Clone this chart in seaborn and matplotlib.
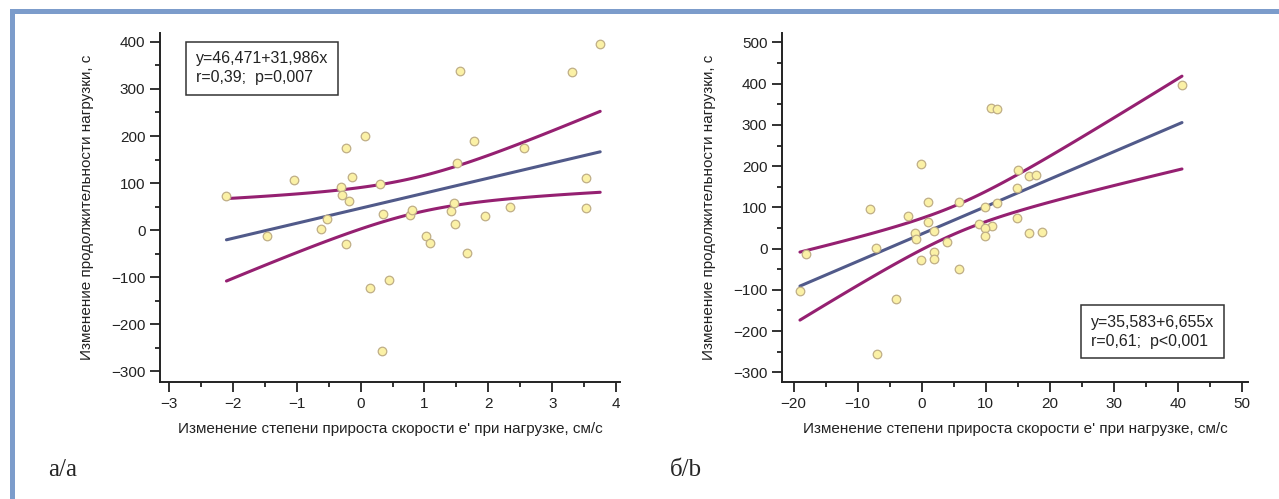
import matplotlib
matplotlib.use("Agg")
import matplotlib.pyplot as plt
from matplotlib.patches import Rectangle
from matplotlib.ticker import MultipleLocator
import numpy as np
import pandas as pd
import seaborn as sns

# panel a: change of e' growth (cm/s) vs change of load duration (s)
a_x = [-2.10, -1.04, -1.47, -0.62, -0.52, -0.31, -0.29, -0.23, -0.23, -0.18, -0.13, 0.07,
       0.15, 0.30, 0.33, 0.35, 0.44, 0.78, 0.81, 1.03, 1.09, 1.41, 1.46, 1.48, 1.51, 1.56,
       1.66, 1.78, 1.95, 2.34, 2.55, 3.31, 3.52, 3.52, 3.75]
a_y = [73, 106, -13, 2, 24, 91, 74, 174, -29, 62, 112, 201,
       -124, 98, -257, 35, -106, 31, 43, -13, -27, 41, 58, 13, 143, 338,
       -49, 190, 30, 50, 174, 336, 111, 47, 395]
a_coef = (46.471, 31.986)
a_r = 0.39
a_text = "y=46,471+31,986x\nr=0,39;  p=0,007"

# panel b
b_x = [10.76, 11.8, -0.1, -8.0, 0.98, 5.87, 9.8, 11.7, -2.14, 40.6, 15.0, 16.7, 17.8, 14.8,
       14.8, 10.9, 16.7, 18.8, 0.93, -1.1, -0.94, 1.92, 8.9, 9.8, 9.87, 3.9, -7.13, -18.1,
       1.87, 1.92, -0.16, 5.87, -19.0, -4.06, -7.0]
b_y = [341, 338, 205, 95, 113, 114, 100, 109.5, 79, 396, 190, 176, 178, 148,
       74.5, 54, 37, 41.5, 64, 37, 23, 43, 59, 51, 31, 15, 2, -14,
       -8, -24, -28, -50, -103, -122, -255]
b_coef = (35.583, 6.655)
b_r = 0.61
b_text = "y=35,583+6,655x\nr=0,61;  p<0,001"

XLABEL = "Изменение степени прироста скорости e' при нагрузке, см/с"
YLABEL = "Изменение продолжительности нагрузки, с"
T975 = 2.0345  # t quantile, df = 33

NARROW = ["Liberation Sans Narrow", "DejaVu Sans Condensed", "Liberation Sans", "DejaVu Sans"]
PT_FACE = "#fbf1a6"
PT_EDGE = "#bfae86"
LINE_C = "#515a8a"
CI_C = "#952071"


def fit_frame(x, coef, r):
    # 95% confidence band of the mean, residual SD taken from the published r
    x = np.asarray(x, float)
    b0, b1 = coef
    n = len(x)
    sxx = ((x - x.mean()) ** 2).sum()
    s = b1 * np.sqrt(sxx) * np.sqrt(1 - r ** 2) / (r * np.sqrt(n - 2))
    xs = np.linspace(x.min(), x.max(), 100)
    fit = b0 + b1 * xs
    hw = T975 * s * np.sqrt(1 / n + (xs - x.mean()) ** 2 / sxx)
    return pd.DataFrame({"x": xs, "fit": fit, "lo": fit - hw, "hi": fit + hw})


def panel(ax, x, y, coef, r, text, xlim, xmaj, xmin, ylim, ymaj, box_xy, box_va):
    df = pd.DataFrame({"x": x, "y": y})
    fr = fit_frame(x, coef, r)
    sns.lineplot(data=fr, x="x", y="hi", ax=ax, color=CI_C, lw=2.2, zorder=2)
    sns.lineplot(data=fr, x="x", y="lo", ax=ax, color=CI_C, lw=2.2, zorder=2)
    sns.lineplot(data=fr, x="x", y="fit", ax=ax, color=LINE_C, lw=2.2, zorder=2)
    sns.scatterplot(data=df, x="x", y="y", ax=ax, s=38, color=PT_FACE,
                    edgecolor=PT_EDGE, linewidth=0.9, zorder=3)
    ax.set_xlim(*xlim)
    ax.set_ylim(*ylim)
    ax.xaxis.set_major_locator(MultipleLocator(xmaj))
    ax.xaxis.set_minor_locator(MultipleLocator(xmin))
    ax.yaxis.set_major_locator(MultipleLocator(ymaj))
    ax.yaxis.set_minor_locator(MultipleLocator(ymaj / 2))
    sns.despine(ax=ax)
    for s in ("left", "bottom"):
        ax.spines[s].set_linewidth(1.4)
        ax.spines[s].set_color("#222222")
    ax.tick_params(which="major", length=7, width=1.3, direction="out", colors="#222222",
                   labelsize=11, pad=3.5)
    ax.tick_params(which="minor", length=3.6, width=1.3, direction="out", colors="#222222")
    for lab in ax.get_xticklabels() + ax.get_yticklabels():
        lab.set_family(NARROW)
    ax.set_xlabel(XLABEL, family=NARROW, fontsize=11, labelpad=8, color="#222222")
    ax.set_ylabel(YLABEL, family=NARROW, fontsize=11, labelpad=12, color="#222222")
    ax.text(box_xy[0], box_xy[1], text, transform=ax.transAxes, family=NARROW,
            fontsize=11.5, va=box_va, ha="left", linespacing=1.35, color="#222222",
            bbox=dict(boxstyle="square,pad=0.6", fc="white", ec="#333333", lw=1.1))


sns.set_theme(style="ticks")
plt.rcParams["font.family"] = NARROW
plt.rcParams["axes.unicode_minus"] = True

fig = plt.figure(figsize=(12.79, 4.99), dpi=100)
fig.patch.set_facecolor("white")

# light-blue frame along top and left
fig.add_artist(Rectangle((10 / 1279, 1 - 14 / 499), 1, 5 / 499, transform=fig.transFigure,
                         color="#7c9ccb", lw=0))
fig.add_artist(Rectangle((10 / 1279, 0), 5 / 1279, 1 - 9 / 499, transform=fig.transFigure,
                         color="#7c9ccb", lw=0))

ax1 = fig.add_axes([160 / 1279, 1 - 382 / 499, 460 / 1279, 349 / 499])
ax2 = fig.add_axes([782 / 1279, 1 - 382 / 499, 466 / 1279, 349 / 499])

panel(ax1, a_x, a_y, a_coef, a_r, a_text, (-3.14, 4.06), 1, 0.5, (-323, 419), 100,
      (0.078, 0.948), "top")
panel(ax2, b_x, b_y, b_coef, b_r, b_text, (-21.8, 50.9), 10, 5, (-323.5, 523), 100,
      (0.663, 0.095), "bottom")

fig.text(48 / 1279, 1 - 470 / 499, "а/a", family=["Liberation Serif", "DejaVu Serif"],
         fontsize=18, va="center", ha="left")
fig.text(670 / 1279, 1 - 470 / 499, "б/b", family=["Liberation Serif", "DejaVu Serif"],
         fontsize=18, va="center", ha="left")

fig.savefig("out.png", dpi=100)
